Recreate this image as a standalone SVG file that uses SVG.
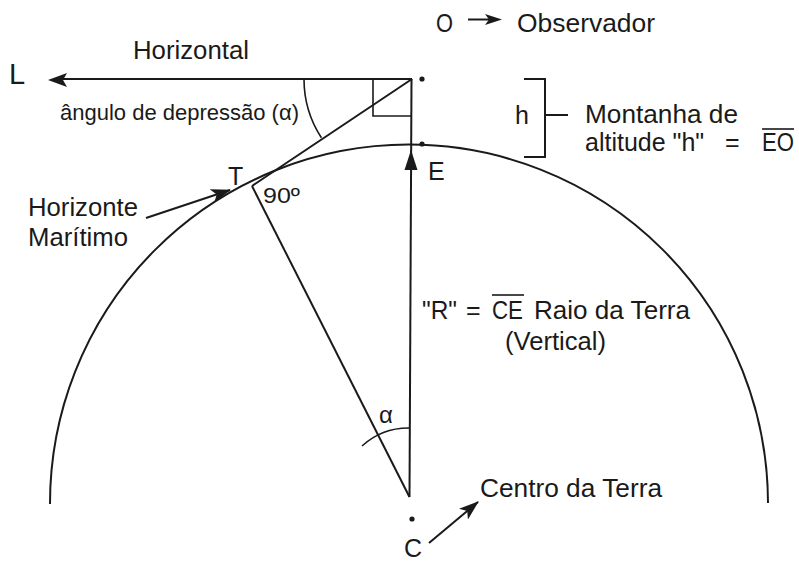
<svg xmlns="http://www.w3.org/2000/svg" width="799" height="563" viewBox="0 0 799 563">
<style>
text{font-family:"Liberation Sans",Arial,sans-serif;fill:#1a1a1a;font-size:25px}
.ln{stroke:#1a1a1a;stroke-width:2;fill:none}
.thin{stroke:#1a1a1a;stroke-width:1.6;fill:none}
.ah{fill:#1a1a1a;stroke:none}
</style>
<defs>
<marker id="arr" viewBox="0 0 20 14" refX="19" refY="7" markerWidth="20" markerHeight="14" markerUnits="userSpaceOnUse" orient="auto">
<path d="M0,0 L20,7 L0,14 L5,7 Z" fill="#1a1a1a"/>
</marker>
</defs>
<rect width="799" height="563" fill="#fff"/>
<g id="earth">
<path class="ln" d="M50,504 A359,359 0 0 1 768,503"/>
</g>
<g id="connectors">
<line id="horizontal" class="ln" x1="412" y1="79" x2="62" y2="79"/>
<path class="ah" d="M48,80 L67,73 L63,80 L67,87 Z"/>
<line id="vertical" class="ln" x1="411.5" y1="79" x2="409.5" y2="497"/>
<path class="ah" d="M411,150 L417.5,170 L404.5,170 Z"/>
<line id="tangent" class="ln" x1="412" y1="79" x2="252" y2="186"/>
<line id="radiusT" class="ln" x1="252" y1="186" x2="409.5" y2="497"/>
<path id="rightangle" class="thin" d="M411,116 L373,116 L373,79"/>
<path id="arcO" class="thin" d="M304,79 A108,108 0 0 0 321.4,137.8"/>
<path id="arcC" class="thin" d="M409.5,428 A69,69 0 0 0 362,446"/>
<path id="bracket" class="ln" d="M524,79 L545,79 L545,157 L524,157 M545,115 L568,115"/>
<line class="ln" x1="468" y1="19.5" x2="490" y2="19.5"/>
<path class="ah" d="M485,14 L502,19.5 L485,25 L489,19.5 Z"/>
<line class="ln" x1="146" y1="218" x2="230" y2="190" marker-end="url(#arr)"/>
<line class="ln" x1="429" y1="543" x2="478" y2="502" marker-end="url(#arr)"/>
</g>
<g id="dots">
<circle cx="422" cy="79" r="2.6" fill="#1a1a1a"/>
<circle cx="422" cy="144" r="2.6" fill="#1a1a1a"/>
<circle cx="412" cy="519" r="2.6" fill="#1a1a1a"/>
</g>
<g id="node-O">
<text x="436" y="32" textLength="17" lengthAdjust="spacingAndGlyphs">O</text>
<text x="517" y="32" textLength="138" lengthAdjust="spacingAndGlyphs">Observador</text>
</g>
<g id="node-L">
<text x="9" y="84" style="font-size:29px">L</text>
<text x="133" y="59" textLength="116" lengthAdjust="spacingAndGlyphs">Horizontal</text>
<text x="60" y="120" style="font-size:22px" textLength="239" lengthAdjust="spacingAndGlyphs">ângulo de depressão (α)</text>
</g>
<g id="node-h">
<text x="515" y="124">h</text>
<text x="585" y="123" textLength="153" lengthAdjust="spacingAndGlyphs">Montanha de</text>
<text x="585" y="151">altitude "h"</text>
<text x="725" y="151">=</text>
<text x="762" y="151" textLength="32" lengthAdjust="spacingAndGlyphs">EO</text>
<line class="thin" x1="762" y1="129" x2="794" y2="129"/>
</g>
<g id="node-E">
<text x="428" y="180">E</text>
</g>
<g id="node-T">
<text x="228" y="185">T</text>
<text x="263" y="203" style="font-size:22px" textLength="37" lengthAdjust="spacingAndGlyphs">90º</text>
<text x="28" y="216" textLength="110" lengthAdjust="spacingAndGlyphs">Horizonte</text>
<text x="28" y="246" textLength="100" lengthAdjust="spacingAndGlyphs">Marítimo</text>
</g>
<g id="node-R">
<text x="422" y="319" textLength="35" lengthAdjust="spacingAndGlyphs">"R"</text>
<text x="466" y="319">=</text>
<text x="492" y="319" textLength="31" lengthAdjust="spacingAndGlyphs">CE</text>
<line class="thin" x1="492" y1="295" x2="524" y2="295"/>
<text x="534" y="319" textLength="156" lengthAdjust="spacingAndGlyphs">Raio da Terra</text>
<text x="505" y="350" textLength="101" lengthAdjust="spacingAndGlyphs">(Vertical)</text>
</g>
<g id="node-C">
<text x="379" y="423" style="font-size:24px">α</text>
<text x="404" y="557">C</text>
<text x="480" y="497" textLength="182" lengthAdjust="spacingAndGlyphs">Centro da Terra</text>
</g>
</svg>
